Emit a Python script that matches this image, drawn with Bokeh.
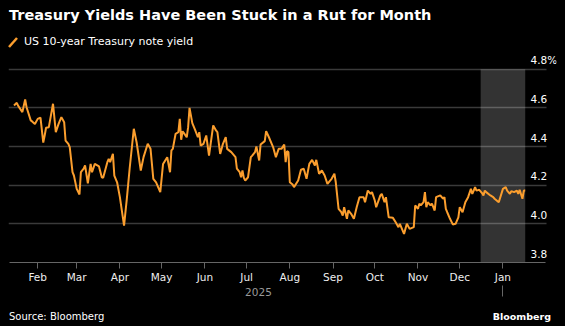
import pandas as pd
from bokeh.plotting import figure
from bokeh.layouts import column
from bokeh.models import (Range1d, FixedTicker, DatetimeTickFormatter, DatetimeAxis,
                          BoxAnnotation, Label, Div)
from bokeh.embed import file_html
from bokeh.resources import INLINE

title_text = "Treasury Yields Have Been Stuck in a Rut for Month"
series_name = "US 10-year Treasury note yield"
source_text = "Source: Bloomberg"
brand_text = "Bloomberg"

base_date = "2025-01-01"
days = [14, 16, 17, 20, 22, 23, 26, 27, 29, 31, 33, 35, 36, 37, 39, 42, 44, 46, 48, 50,
        51, 53, 54, 56, 57, 59, 61, 62, 64, 65, 67, 69, 70, 72, 75, 77, 78, 81, 82, 83,
        85, 86, 88, 90, 93, 95, 97, 100, 102, 105, 107, 110, 112, 114, 116, 119, 121, 124, 126, 127,
        128, 130, 132, 133, 134, 135, 136, 138, 139, 140, 142, 144, 146, 147, 148, 150, 152, 154, 157, 159,
        160, 162, 164, 166, 167, 170, 173, 174, 176, 177, 178, 179, 180, 182, 184, 185, 187, 188, 190, 191,
        194, 195, 197, 199, 200, 202, 204, 206, 208, 209, 210, 211, 212, 214, 215, 218, 220, 222, 224, 226,
        228, 230, 231, 233, 235, 237, 239, 242, 244, 245, 247, 249, 250, 251, 253, 254, 256, 258, 260, 262,
        265, 266, 268, 270, 271, 273, 274, 277, 278, 280, 281, 283, 286, 288, 290, 291, 294, 296, 298, 301,
        302, 304, 305, 306, 308, 309, 310, 311, 313, 314, 316, 317, 320, 322, 323, 324, 325, 327, 329, 331,
        333, 334, 336, 338, 340, 342, 343, 344, 345, 346, 348, 350, 351, 352, 353, 356, 358, 359, 362, 365,
        367, 368, 370, 371, 373, 375, 376, 377, 379, 380, 381]
yields = [4.612, 4.626, 4.610, 4.578, 4.643, 4.603, 4.535, 4.530, 4.517, 4.543, 4.550, 4.420, 4.457, 4.497, 4.500, 4.621, 4.474, 4.517, 4.552, 4.526,
          4.431, 4.414, 4.397, 4.267, 4.250, 4.181, 4.152, 4.267, 4.285, 4.302, 4.210, 4.310, 4.267, 4.310, 4.297, 4.241, 4.238, 4.319, 4.336, 4.319,
          4.362, 4.250, 4.215, 4.138, 3.991, 4.130, 4.285, 4.492, 4.422, 4.276, 4.345, 4.414, 4.388, 4.233, 4.215, 4.164, 4.310, 4.345, 4.267, 4.380,
          4.388, 4.466, 4.474, 4.543, 4.435, 4.479, 4.469, 4.448, 4.500, 4.600, 4.521, 4.486, 4.448, 4.474, 4.405, 4.414, 4.457, 4.353, 4.509, 4.483,
          4.474, 4.362, 4.414, 4.448, 4.388, 4.371, 4.345, 4.285, 4.267, 4.241, 4.276, 4.238, 4.224, 4.241, 4.345, 4.353, 4.371, 4.400, 4.328, 4.410,
          4.428, 4.479, 4.448, 4.414, 4.397, 4.345, 4.388, 4.388, 4.410, 4.319, 4.376, 4.371, 4.215, 4.203, 4.190, 4.224, 4.280, 4.285, 4.233, 4.310,
          4.331, 4.302, 4.331, 4.259, 4.276, 4.250, 4.207, 4.233, 4.259, 4.215, 4.078, 4.060, 4.043, 4.086, 4.026, 4.069, 4.052, 4.026, 4.086, 4.138,
          4.138, 4.112, 4.172, 4.155, 4.164, 4.121, 4.086, 4.147, 4.155, 4.112, 4.138, 4.034, 4.031, 4.008, 3.983, 4.000, 3.948, 4.000, 3.974, 3.983,
          4.095, 4.078, 4.104, 4.095, 4.112, 4.164, 4.086, 4.112, 4.095, 4.104, 4.069, 4.138, 4.147, 4.130, 4.138, 4.078, 4.060, 4.026, 3.997, 4.000,
          4.034, 4.086, 4.060, 4.112, 4.138, 4.181, 4.155, 4.172, 4.190, 4.172, 4.176, 4.159, 4.147, 4.172, 4.164, 4.147, 4.138, 4.130, 4.112, 4.181,
          4.190, 4.172, 4.155, 4.169, 4.164, 4.172, 4.155, 4.176, 4.130, 4.172, 4.172]

month_ticks = ["2025-02-01", "2025-03-01", "2025-04-01", "2025-05-01", "2025-06-01", "2025-07-01",
               "2025-08-01", "2025-09-01", "2025-10-01", "2025-11-01", "2025-12-01", "2026-01-01"]
y_ticks = [3.8, 4.0, 4.2, 4.4, 4.6, 4.8]
y_tick_labels = ["3.8", "4.0", "4.2", "4.4", "4.6", "4.8%"]
highlight_start = "2025-12-16"
year_boundary = "2026-01-01"

BG = "#000000"
ORANGE = "#fb9e2e"
GRID = "#3a3a3a"
AXIS = "#666666"
FONT = "DejaVu Sans"

dates = pd.Timestamp(base_date) + pd.to_timedelta(days, unit="D")


def ms(t):
    return pd.Timestamp(t).value / 1e6


def day(d):
    return pd.Timestamp(base_date) + pd.Timedelta(days=d)


W = 565
HEAD_H, FOOT_H = 50, 26
FIG_H = 326 - HEAD_H - FOOT_H        # 250
FRAME_BOTTOM = 212                    # canvas y 262
PX_PER_UNIT = 193.3

x_start, x_end = day(10.04), day(403.45)
grid_end = day(396.27)
axis_lo, axis_hi = day(10.76), day(395.55)
y_top = 3.8 + FRAME_BOTTOM / PX_PER_UNIT

p = figure(width=W, height=FIG_H, x_axis_type="datetime",
           x_range=Range1d(ms(x_start), ms(x_end)), y_range=Range1d(3.8, y_top),
           y_axis_location=None, toolbar_location=None, output_backend="svg",
           min_border_left=8, min_border_right=9, min_border_top=0,
           min_border_bottom=FIG_H - FRAME_BOTTOM)
p.background_fill_color = BG
p.border_fill_color = BG
p.outline_line_color = None

p.xgrid.visible = False
p.ygrid.ticker = FixedTicker(ticks=y_ticks)
p.ygrid.grid_line_color = GRID
p.ygrid.grid_line_width = 1.5
p.ygrid.cross_bounds = (ms(x_start), ms(grid_end))

hl = BoxAnnotation(left=ms(highlight_start), right=ms(dates[-1]), top=max(y_ticks), bottom=min(y_ticks),
                   fill_color="#ffffff", fill_alpha=0.2, line_color=None, level="underlay")
p.add_layout(hl)

p.line(x=dates, y=yields, line_color=ORANGE, line_width=2)

ax = p.xaxis[0]
ax.ticker = FixedTicker(ticks=[ms(t) for t in month_ticks], minor_ticks=[])
ax.formatter = DatetimeTickFormatter(days="%b", months="%b", years="%b")
ax.bounds = (ms(axis_lo), ms(axis_hi))
ax.axis_line_color = AXIS
ax.major_tick_line_color = AXIS
ax.major_tick_out = 6
ax.major_tick_in = 0
ax.minor_tick_line_color = None
ax.major_label_text_color = "#eeeeee"
ax.major_label_text_font = FONT
ax.major_label_text_font_size = "10.5px"
ax.major_label_standoff = 2

year_mid = pd.Timestamp(dates[0]) + (pd.Timestamp(year_boundary) - pd.Timestamp(dates[0])) / 2
yfmt = "%Y"
ax2 = DatetimeAxis(ticker=FixedTicker(ticks=[ms(year_mid)], minor_ticks=[ms(year_boundary)]),
                   formatter=DatetimeTickFormatter(microseconds=yfmt, milliseconds=yfmt, seconds=yfmt,
                                                   minsec=yfmt, minutes=yfmt, hourmin=yfmt, hours=yfmt,
                                                   days=yfmt, months=yfmt, years=yfmt))
ax2.axis_line_color = None
ax2.major_tick_line_color = None
ax2.minor_tick_line_color = AXIS
ax2.minor_tick_out = 11
ax2.minor_tick_in = 0
ax2.major_label_text_color = "#9a9a9a"
ax2.major_label_text_font = FONT
ax2.major_label_text_font_size = "10.5px"
ax2.major_label_standoff = -9
p.add_layout(ax2, "below")

for t, lab in zip(y_ticks, y_tick_labels):
    p.add_layout(Label(x=ms(grid_end), y=t, x_offset=-16, y_offset=9, text=lab,
                       text_color="#ffffff", text_font=FONT, text_font_size="10.5px",
                       text_baseline="alphabetic", text_align="left"))

ff = "font-family:'DejaVu Sans';white-space:nowrap;position:absolute;line-height:1;"
header_html = (
    f'<div style="position:relative;width:{W}px;height:{HEAD_H}px;background:#000;overflow:hidden;">'
    f'<span style="{ff}left:9px;top:7.7px;font-size:14.5px;font-weight:bold;color:#ffffff;">{title_text}</span>'
    f'<svg style="position:absolute;left:0;top:0;" width="30" height="{HEAD_H}">'
    f'<line x1="9" y1="47" x2="17" y2="38" stroke="{ORANGE}" stroke-width="2.5"/></svg>'
    f'<span style="{ff}left:24px;top:35.7px;font-size:11px;color:#ffffff;">{series_name}</span>'
    f'</div>'
)
footer_html = (
    f'<div style="position:relative;width:{W}px;height:{FOOT_H}px;background:#000;overflow:hidden;">'
    f'<span style="{ff}left:9px;top:11.5px;font-size:10px;color:#ffffff;">{source_text}</span>'
    f'<span style="{ff}right:14px;top:12px;font-size:9.5px;font-weight:bold;color:#ffffff;">{brand_text}</span>'
    f'</div>'
)
header = Div(text=header_html, width=W, height=HEAD_H, margin=(0, 0, 0, 0),
             styles={"background-color": BG})
footer = Div(text=footer_html, width=W, height=FOOT_H, margin=(0, 0, 0, 0),
             styles={"background-color": BG})

layout = column(header, p, footer, spacing=0, styles={"background-color": BG})

open("out.html", "w").write(file_html(layout, INLINE))
